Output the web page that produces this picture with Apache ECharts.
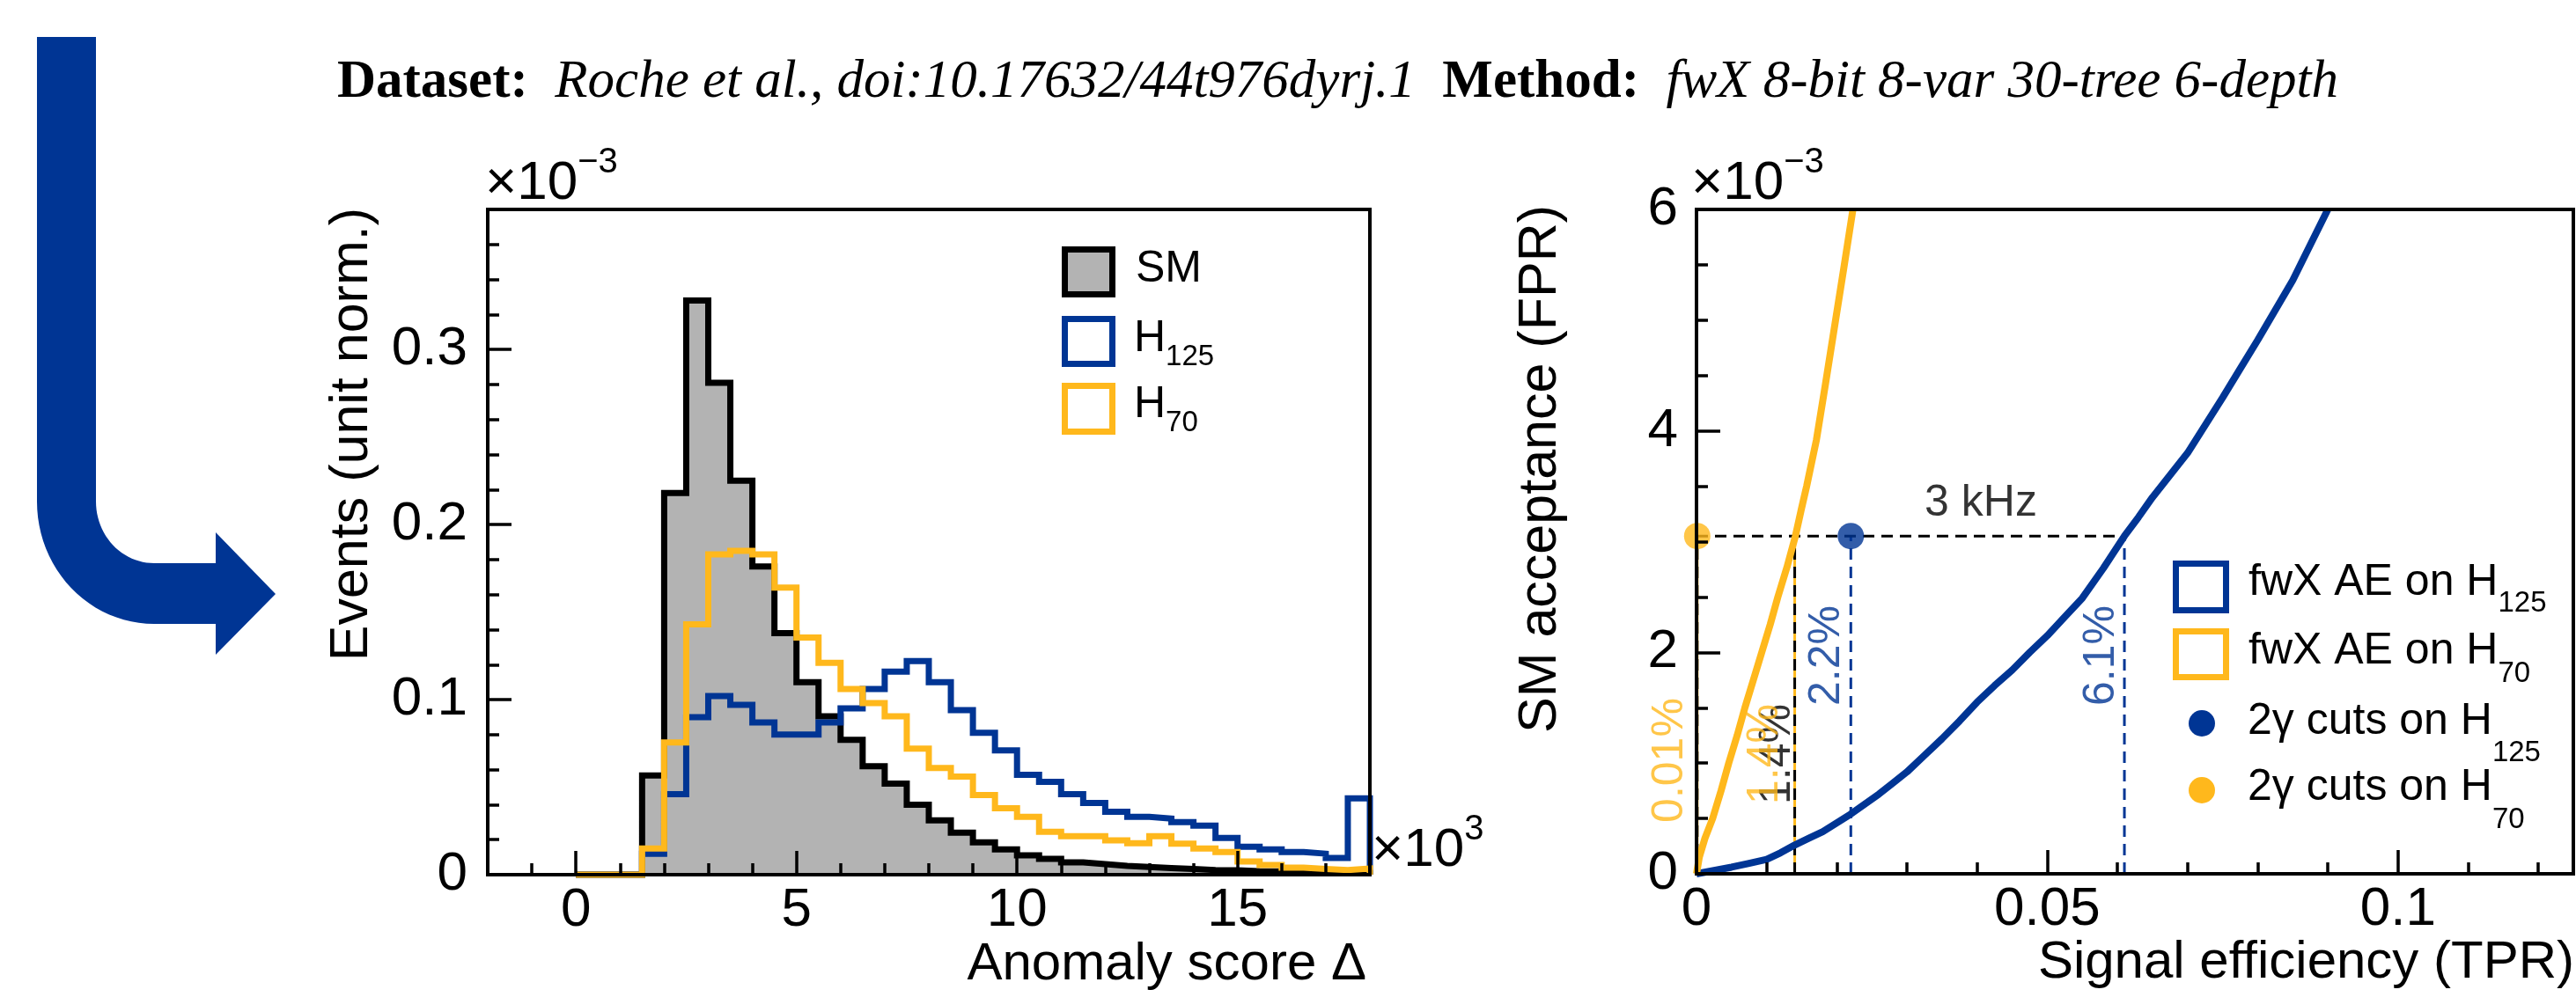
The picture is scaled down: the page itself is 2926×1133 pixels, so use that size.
<!DOCTYPE html>
<html>
<head>
<meta charset="utf-8">
<script src="https://cdn.jsdelivr.net/npm/echarts@6.0.0/dist/echarts.min.js"></script>
<style>
  html, body { margin: 0; padding: 0; background: #fff; }
  #chart { width: 2926px; height: 1133px; }
</style>
</head>
<body>
<div id="chart"></div>
<script>
// colours / fonts
const BLUE = '#003594';
const ORANGE = '#FFB81C';
const GREY = '#b3b3b3';
const SANS = '"Liberation Sans", Arial, Helvetica, sans-serif';
const SERIF = '"Liberation Serif", "Times New Roman", serif';

// ---- left panel: anomaly score histograms (x in 1e3, y in 1e-3) ----
const binStart = 0;
const binWidth = 0.5;
const smValues = [0, 0, 0, 0.0567, 0.218, 0.328, 0.281, 0.225, 0.176, 0.138, 0.110, 0.0905,
  0.077, 0.062, 0.052, 0.040, 0.031, 0.024, 0.0185, 0.0145, 0.011, 0.009, 0.007, 0.006,
  0.005, 0.0044, 0.0038, 0.0033, 0.0027, 0.0025, 0.002, 0.0019, 0.0016, 0.0014, 0.001, 0.001];
const h125Values = [0, 0, 0, 0.012, 0.046, 0.090, 0.102, 0.097, 0.087, 0.080, 0.080, 0.087,
  0.095, 0.106, 0.116, 0.122, 0.110, 0.094, 0.081, 0.071, 0.057, 0.053, 0.046, 0.041,
  0.036, 0.033, 0.032, 0.030, 0.028, 0.021, 0.016, 0.0145, 0.013, 0.012, 0.0095, 0.0436];
const h70Values = [0, 0, 0, 0.015, 0.0755, 0.143, 0.183, 0.185, 0.183, 0.164, 0.1355, 0.121,
  0.106, 0.098, 0.0905, 0.072, 0.061, 0.056, 0.0455, 0.038, 0.033, 0.0245, 0.022, 0.022,
  0.0196, 0.018, 0.022, 0.0177, 0.015, 0.013, 0.0076, 0.0055, 0.004, 0.0033, 0.0027, 0.0035];

const scoreMajorTicks = [0, 5, 10, 15];
const scoreMinorTicks = [-1, 1, 2, 3, 4, 6, 7, 8, 9, 11, 12, 13, 14, 16, 17];
const eventsMajorTicks = [0, 0.1, 0.2, 0.3];
const eventsMinorTicks = [0.02, 0.04, 0.06, 0.08, 0.12, 0.14, 0.16, 0.18, 0.22, 0.24, 0.26, 0.28, 0.32, 0.34, 0.36];

// ---- right panel: ROC (TPR vs FPR in 1e-3) ----
const rocH125Tpr = [0, 0.0025, 0.005, 0.0075, 0.01, 0.012, 0.014, 0.016, 0.018, 0.02, 0.022, 0.024,
  0.026, 0.028, 0.03, 0.0325, 0.035, 0.0375, 0.04, 0.0425, 0.045, 0.0475, 0.05, 0.0525, 0.055,
  0.058, 0.061, 0.063, 0.065, 0.0675, 0.07, 0.0725, 0.075, 0.0775, 0.08, 0.0825, 0.085, 0.0875, 0.09];
const rocH125Fpr = [0, 0.03, 0.06, 0.095, 0.13, 0.19, 0.26, 0.32, 0.38, 0.46, 0.54, 0.63,
  0.72, 0.82, 0.92, 1.07, 1.22, 1.38, 1.55, 1.70, 1.84, 2.00, 2.15, 2.32, 2.49,
  2.76, 3.05, 3.22, 3.40, 3.60, 3.80, 4.05, 4.30, 4.56, 4.82, 5.09, 5.36, 5.68, 6.0];
const rocH70Tpr = [0, 0.0004, 0.0012, 0.0023, 0.0035, 0.0046, 0.0058, 0.0069, 0.0081, 0.0093, 0.0105,
  0.0116, 0.0129, 0.0141, 0.0149, 0.0157, 0.0164, 0.0171, 0.0184, 0.0197, 0.021, 0.0223];
const rocH70Fpr = [0, 0.15, 0.32, 0.5, 0.75, 1.0, 1.25, 1.5, 1.75, 2.0, 2.25,
  2.5, 2.77, 3.05, 3.28, 3.5, 3.71, 3.92, 4.43, 4.95, 5.47, 6.0];

const tprMajorTicks = [0, 0.05, 0.1];
const tprMinorTicks = [0.01, 0.02, 0.03, 0.04, 0.06, 0.07, 0.08, 0.09, 0.11, 0.12];
const fprMajorTicks = [0, 2, 4, 6];
const fprMinorTicks = [0.5, 1, 1.5, 2.5, 3, 3.5, 4.5, 5, 5.5];

const rate3kHz = 3.05;        // SM acceptance for 3 kHz
const aeH125Eff = 0.061;
const aeH70Eff = 0.014;
const cutH125Eff = 0.022;
const cutH70Eff = 0.0001;

function histPoints(values) {
  const pts = values.map((v, i) => [binStart + i * binWidth, v]);
  const end = binStart + values.length * binWidth;
  pts.push([end, values[values.length - 1]]);
  pts.push([end, 0]);
  return pts;
}

const zip = (a, b) => a.map((v, i) => [v, b[i]]);

// text helpers (sub / superscripts)
const MID = 0.3465;
const mctx = document.createElement('canvas').getContext('2d');
function measure(str, size, family) {
  mctx.font = size + 'px ' + (family || SANS);
  return mctx.measureText(str).width;
}
function scripted(x, baseline, main, script, size, scriptSize, shift, color) {
  const col = color || '#000';
  const els = [{
    type: 'text', x: x, y: baseline - MID * size, z: 50,
    style: { text: main, fontSize: size, fontFamily: SANS, fill: col, align: 'left', verticalAlign: 'middle' }
  }];
  if (script) {
    els.push({
      type: 'text', x: x + measure(main, size), y: baseline + shift - MID * scriptSize, z: 50,
      style: { text: script, fontSize: scriptSize, fontFamily: SANS, fill: col, align: 'left', verticalAlign: 'middle' }
    });
  }
  return els;
}

// blue L-shaped arrow
function arrowPoints() {
  const pts = [[42, 42]];
  for (let k = 0; k <= 24; k++) {
    const t = Math.PI - (Math.PI / 2) * k / 24;
    pts.push([175 + 133 * Math.cos(t), 570 + 139 * Math.sin(t)]);
  }
  pts.push([245, 709], [245, 744], [313, 675], [245, 605], [245, 640]);
  for (let k = 0; k <= 24; k++) {
    const t = Math.PI / 2 + (Math.PI / 2) * k / 24;
    pts.push([175 + 66 * Math.cos(t), 570 + 70 * Math.sin(t)]);
  }
  pts.push([109, 42]);
  return pts;
}

const tickStyle = { color: '#000', width: 3.5 };
const labelStyle = { fontSize: 62, fontFamily: SANS, color: '#000' };

function axisPair(gridIndex, min, max, major, minor, position, margin) {
  return [
    {
      gridIndex, type: 'value', position, min, max, z: 12,
      axisLine: { show: true, onZero: false, lineStyle: { color: '#000', width: 4 } },
      axisTick: { show: true, inside: true, length: 27, customValues: major, lineStyle: tickStyle },
      axisLabel: Object.assign({ customValues: major, margin }, labelStyle),
      splitLine: { show: false }
    },
    {
      gridIndex, type: 'value', position, min, max, z: 12,
      axisLine: { show: false, onZero: false },
      axisTick: { show: true, inside: true, length: 13, customValues: minor, lineStyle: tickStyle },
      axisLabel: { show: false },
      splitLine: { show: false }
    }
  ];
}

const refLine = (pts, color, dashed, width) => ({
  type: 'line', xAxisIndex: 2, yAxisIndex: 2, data: pts, symbol: 'none', silent: true, clip: false,
  lineStyle: { color, width, type: dashed ? [13, 8] : 'solid' }, z: 4
});

const histSeries = (name, values, color, fill) => {
  const s = {
    name, type: 'line', xAxisIndex: 0, yAxisIndex: 0, data: histPoints(values), step: 'end',
    symbol: 'none', showSymbol: false, clip: false, silent: true,
    lineStyle: { color, width: 7, join: 'miter' }, z: 3
  };
  if (fill) s.areaStyle = { color: fill, opacity: 1 };
  return s;
};

const graphics = [];
graphics.push({ type: 'polygon', shape: { points: arrowPoints() }, style: { fill: BLUE }, z: 50 });

// axis titles
graphics.push({ type: 'text', x: 400, y: 236, rotation: Math.PI / 2, z: 50,
  style: { text: 'Events (unit norm.)', fontSize: 61, fontFamily: SANS, fill: '#000', align: 'right', verticalAlign: 'middle' } });
graphics.push({ type: 'text', x: 1750, y: 233, rotation: Math.PI / 2, z: 50,
  style: { text: 'SM acceptance (FPR)', fontSize: 61, fontFamily: SANS, fill: '#000', align: 'right', verticalAlign: 'middle' } });
graphics.push({ type: 'text', x: 1552, y: 1117 - MID * 60, z: 50,
  style: { text: 'Anomaly score \u0394', fontSize: 60, fontFamily: SANS, fill: '#000', align: 'right', verticalAlign: 'middle' } });
graphics.push({ type: 'text', x: 2924, y: 1115 - MID * 60, z: 50,
  style: { text: 'Signal efficiency (TPR)', fontSize: 60, fontFamily: SANS, fill: '#000', align: 'right', verticalAlign: 'middle' } });

// exponent labels
graphics.push(...scripted(551, 230, '\u00d710', '\u22123', 62, 40, -31));
graphics.push(...scripted(1921, 230, '\u00d710', '\u22123', 62, 40, -31));
graphics.push(...scripted(1558, 988, '\u00d710', '3', 62, 40, -31));

// left legend
graphics.push({ type: 'rect', shape: { x: 1209.5, y: 283.5, width: 54, height: 51 }, z: 50,
  style: { fill: GREY, stroke: '#000', lineWidth: 7 } });
graphics.push({ type: 'rect', shape: { x: 1209.5, y: 362.5, width: 54, height: 51 }, z: 50,
  style: { fill: '#fff', stroke: BLUE, lineWidth: 7 } });
graphics.push({ type: 'rect', shape: { x: 1209.5, y: 438.5, width: 54, height: 52 }, z: 50,
  style: { fill: '#fff', stroke: ORANGE, lineWidth: 7 } });
graphics.push(...scripted(1290, 324, 'SM', null, 50));
graphics.push(...scripted(1288, 403, 'H', '125', 50, 33, 14));
graphics.push(...scripted(1288, 478, 'H', '70', 50, 33, 14));

// right legend
graphics.push({ type: 'rect', shape: { x: 2471.5, y: 640.5, width: 57, height: 53 }, z: 50,
  style: { fill: '#fff', stroke: BLUE, lineWidth: 7 } });
graphics.push({ type: 'rect', shape: { x: 2471.5, y: 717.5, width: 57, height: 52 }, z: 50,
  style: { fill: '#fff', stroke: ORANGE, lineWidth: 7 } });
graphics.push({ type: 'circle', shape: { cx: 2501, cy: 822, r: 15 }, z: 50, style: { fill: BLUE } });
graphics.push({ type: 'circle', shape: { cx: 2501, cy: 898, r: 15 }, z: 50, style: { fill: ORANGE } });
graphics.push(...scripted(2554, 680, 'fwX AE on H', '125', 50, 33, 17));
graphics.push(...scripted(2554, 758, 'fwX AE on H', '70', 50, 33, 19));
graphics.push(...scripted(2553, 838, '2\u03b3 cuts on H', '125', 50, 33, 29));
graphics.push(...scripted(2553, 913, '2\u03b3 cuts on H', '70', 50, 33, 30));

const xAxes = axisPair(0, -2, 18, scoreMajorTicks, scoreMinorTicks, 'bottom', 10)
  .concat(axisPair(1, 0, 0.125, tprMajorTicks, tprMinorTicks, 'bottom', 10));
const yAxes = axisPair(0, 0, 0.38, eventsMajorTicks, eventsMinorTicks, 'left', 23)
  .concat(axisPair(1, 0, 6, fprMajorTicks, fprMinorTicks, 'left', 21));

const option = {
  animation: false,
  backgroundColor: '#fff',
  title: {
    left: 383, top: 59, padding: 0,
    text: '{b|Dataset:}  {i|Roche et al., doi:10.17632/44t976dyrj.1}  {b|Method:}  {i|fwX 8-bit 8-var 30-tree 6-depth}',
    textStyle: {
      fontFamily: SERIF, fontSize: 61, lineHeight: 70, color: '#000', fontWeight: 'normal',
      rich: {
        b: { fontFamily: SERIF, fontSize: 61, lineHeight: 70, fontWeight: 'bold', color: '#000' },
        i: { fontFamily: SERIF, fontSize: 61, lineHeight: 70, fontStyle: 'italic', color: '#000' }
      }
    }
  },
  grid: [
    { left: 554, top: 238, width: 1002, height: 756, show: true, z: 10,
      backgroundColor: 'transparent', borderColor: '#000', borderWidth: 4 },
    { left: 1927, top: 238, width: 996, height: 755, show: true, z: 10,
      backgroundColor: 'transparent', borderColor: '#000', borderWidth: 4 }
  ],
  xAxis: xAxes,
  yAxis: yAxes,
  series: [
    histSeries('SM', smValues, '#000', GREY),
    histSeries('H125', h125Values, BLUE),
    histSeries('H70', h70Values, ORANGE),

    // 2 gamma cut working points
    { name: '2\u03b3 cuts on H125', type: 'scatter', xAxisIndex: 2, yAxisIndex: 2, clip: false, z: 4,
      symbolSize: 30, itemStyle: { color: BLUE }, data: [[cutH125Eff, rate3kHz]] },
    { name: '2\u03b3 cuts on H70', type: 'scatter', xAxisIndex: 2, yAxisIndex: 2, clip: false, z: 4,
      symbolSize: 30, itemStyle: { color: ORANGE }, data: [[cutH70Eff, rate3kHz]] },

    // 3 kHz guide lines
    refLine([[cutH70Eff, 0], [cutH70Eff, rate3kHz]], ORANGE, false, 3),
    refLine([[cutH70Eff, 0], [cutH70Eff, rate3kHz]], '#000', true, 3),
    refLine([[aeH70Eff, 0], [aeH70Eff, rate3kHz]], ORANGE, false, 3),
    refLine([[aeH70Eff, 0], [aeH70Eff, rate3kHz]], '#000', true, 3),
    refLine([[cutH125Eff, 0], [cutH125Eff, rate3kHz]], BLUE, true, 3),
    refLine([[aeH125Eff, 0], [aeH125Eff, rate3kHz]], BLUE, true, 3),
    refLine([[0, rate3kHz], [aeH125Eff, rate3kHz]], '#000', true, 3),

    // ROC curves
    { name: 'fwX AE on H125', type: 'line', xAxisIndex: 2, yAxisIndex: 2, data: zip(rocH125Tpr, rocH125Fpr),
      symbol: 'none', showSymbol: false, silent: true, lineStyle: { color: BLUE, width: 8 }, z: 5 },
    { name: 'fwX AE on H70', type: 'line', xAxisIndex: 2, yAxisIndex: 2, data: zip(rocH70Tpr, rocH70Fpr),
      symbol: 'none', showSymbol: false, silent: true, lineStyle: { color: ORANGE, width: 8 }, z: 5 },

    // annotations
    { type: 'scatter', xAxisIndex: 2, yAxisIndex: 2, symbolSize: 1, clip: false, silent: true, z: 8,
      itemStyle: { color: 'rgba(0,0,0,0)' },
      label: { show: true, position: 'inside', fontSize: 50, fontFamily: SANS },
      data: [
        { value: [-0.00376, 1.025], label: { formatter: '0.01%', color: ORANGE, rotate: 90 } },
        { value: [0.01155, 1.081], label: { formatter: '1.4%', color: '#000', rotate: 90 } },
        { value: [0.00979, 1.081], label: { formatter: '1.4%', color: ORANGE, rotate: 90 } },
        { value: [0.01866, 1.971], label: { formatter: '2.2%', color: BLUE, rotate: 90 } },
        { value: [0.0577, 1.971], label: { formatter: '6.1%', color: BLUE, rotate: 90 } },
        { value: [0.04054, 3.34], label: { formatter: '3 kHz', color: '#000' } }
      ] }
  ],
  graphic: { elements: graphics }
};

const chart = echarts.init(document.getElementById('chart'));
chart.setOption(option);
</script>
</body>
</html>
